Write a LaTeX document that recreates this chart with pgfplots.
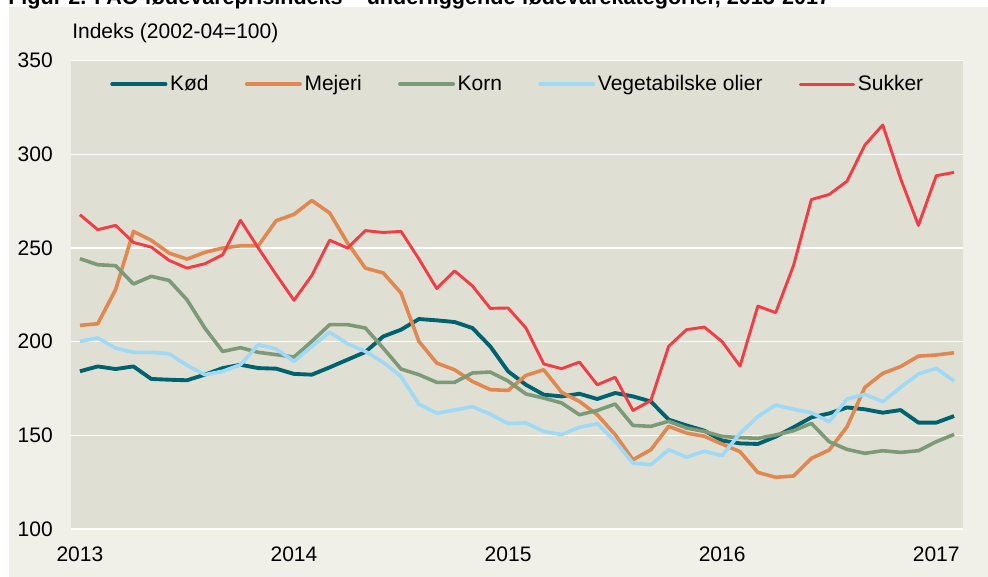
\documentclass[border=0pt]{standalone}
\usepackage{pgfplots}
\pgfplotsset{compat=1.18}
\usepackage{pgfplotstable}
\usepackage{fontspec}
\setmainfont{Liberation Sans}
\definecolor{panelbg}{RGB}{240,239,232}
\definecolor{plotbg}{RGB}{224,223,212}
\definecolor{kod}{RGB}{0,98,110}
\definecolor{mejeri}{RGB}{224,136,79}
\definecolor{korn}{RGB}{125,154,120}
\definecolor{olie}{RGB}{158,217,245}
\definecolor{sukker}{RGB}{239,62,69}

\pgfplotstableread{
i kod mejeri korn olie sukker
0 184.2 208.7 244.3 200.2 267.8
1 186.8 209.6 241.1 202.0 259.8
2 185.4 227.8 240.6 196.6 262.1
3 186.8 258.9 230.8 194.3 253.0
4 180.1 254.1 234.9 194.3 250.5
5 179.7 247.3 232.7 193.6 243.4
6 179.4 244.1 222.4 187.4 239.3
7 182.4 247.7 207.3 182.4 241.6
8 185.9 250.0 194.8 184.2 246.4
9 187.7 251.2 196.8 187.7 264.8
10 185.9 251.2 194.3 198.4 250.0
11 185.6 264.6 193.1 196.1 235.8
12 182.8 268.0 191.8 189.5 222.1
13 182.4 275.4 200.2 197.5 235.4
14 186.3 268.7 209.1 205.0 254.2
15 190.4 252.7 209.1 198.9 250.0
16 194.5 239.3 207.3 194.8 259.3
17 202.8 236.7 196.6 189.0 258.3
18 206.4 226.0 185.4 181.4 258.9
19 212.1 200.2 182.4 166.7 244.2
20 211.4 188.6 178.3 161.8 228.4
21 210.5 185.0 178.3 163.5 237.8
22 207.3 178.8 183.3 165.3 229.8
23 197.5 174.4 183.8 161.3 217.8
24 184.2 174.0 179.0 156.3 218.0
25 177.0 182.0 172.1 156.6 207.3
26 171.7 185.0 169.9 152.1 188.1
27 170.8 173.0 167.3 150.4 185.6
28 172.2 168.1 161.0 154.3 189.1
29 169.4 161.0 163.3 156.2 177.0
30 172.6 150.4 166.7 146.8 181.0
31 170.8 137.0 155.3 135.2 163.3
32 168.1 142.3 154.8 134.3 168.5
33 158.4 154.8 157.5 142.3 197.5
34 155.3 151.2 153.9 138.3 206.4
35 152.5 149.5 152.1 141.5 207.8
36 147.2 145.3 149.4 139.2 200.0
37 145.7 141.3 148.8 151.1 187.0
38 145.4 130.2 148.4 160.0 219.0
39 149.3 127.6 150.2 166.2 215.5
40 154.3 128.3 152.5 163.9 240.7
41 159.6 137.7 156.4 162.1 275.9
42 161.7 142.2 146.6 157.3 278.6
43 164.9 154.6 142.5 169.4 285.7
44 163.9 175.6 140.4 171.9 305.0
45 162.1 183.1 141.8 168.0 315.7
46 163.5 186.7 140.9 175.6 287.1
47 156.8 192.3 141.8 182.7 262.1
48 156.8 192.9 146.6 185.8 288.6
49 160.3 194.1 150.5 179.0 290.4
}\datatable

\begin{document}
\begin{tikzpicture}
\useasboundingbox (0,0) rectangle (741pt,-432.75pt);
\clip (0,0) rectangle (741pt,-432.75pt);
\fill[panelbg] (6.75pt,-5.25pt) rectangle (741pt,-432.75pt);
\node[anchor=base west, inner sep=0pt, font=\fontsize{16.2}{19}\bfseries\selectfont] at (6pt,-3.4pt)
  {Figur 2. FAO fødevareprisindeks – underliggende fødevarekategorier, 2013-2017};
\node[anchor=base west, inner sep=0pt, font=\fontsize{15.75}{18}\selectfont] at (54pt,-28.9pt)
  {Indeks (2002-04=100)};
\begin{axis}[
  at={(53.25pt,-396.75pt)}, anchor=south west,
  scale only axis, width=669pt, height=351.2pt,
  xmin=-0.5, xmax=49.5, ymin=100, ymax=350,
  ytick={100,150,...,350},
  xtick={0,12,24,36,48},
  xticklabels={2013,2014,2015,2016,2017},
  axis background/.style={fill=plotbg},
  axis line style={draw=none},
  major tick length=0pt,
  ymajorgrids, major grid style={white, line width=1pt},
  /pgf/number format/assume math mode=true,
  /pgf/number format/1000 sep={},
  tick label style={font=\fontsize{15.75}{18}\selectfont},
  yticklabel style={anchor=east, inner sep=0pt, xshift=-13.5pt},
  xticklabel style={anchor=north, inner sep=0pt, yshift=-13pt},
  legend columns=5,
  legend style={at={(0.0437,0.950)}, anchor=west, draw=none, fill=none,
    font=\fontsize{15.75}{18}\selectfont, inner sep=0pt,
    /tikz/every even column/.append style={column sep=25.25pt}},
  legend image code/.code={\draw[#1, line cap=round] (0pt,0pt) -- (40pt,0pt);},
  every axis plot/.append style={line join=round},
]
\addplot[kod, line width=2.9pt] table[x=i, y=kod] {\datatable};
\addlegendentry{Kød}
\addplot[mejeri, line width=2.7pt] table[x=i, y=mejeri] {\datatable};
\addlegendentry{Mejeri}
\addplot[korn, line width=2.7pt] table[x=i, y=korn] {\datatable};
\addlegendentry{Korn}
\addplot[olie, line width=2.7pt] table[x=i, y=olie] {\datatable};
\addlegendentry{Vegetabilske olier}
\addplot[sukker, line width=2.2pt] table[x=i, y=sukker] {\datatable};
\addlegendentry{Sukker}
\end{axis}
\end{tikzpicture}
\end{document}
